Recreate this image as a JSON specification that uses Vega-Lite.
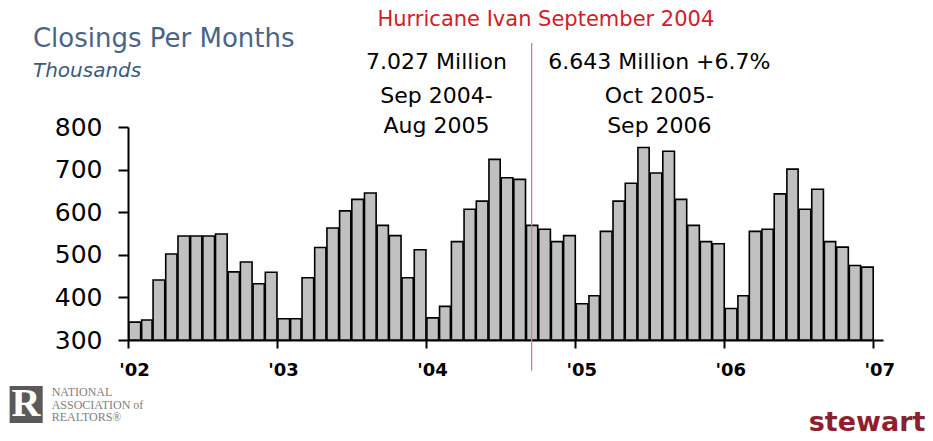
{
  "$schema": "https://vega.github.io/schema/vega-lite/v6.json",
  "autosize": "none",
  "width": 755,
  "height": 213,
  "padding": {"left": 128, "top": 127, "right": 50, "bottom": 101},
  "background": "white",
  "config": {"view": {"stroke": null}},
  "datasets": {
    "closings": [
      {"date": "2002-01-01", "closings": 342}, {"date": "2002-02-01", "closings": 347},
      {"date": "2002-03-01", "closings": 441}, {"date": "2002-04-01", "closings": 502},
      {"date": "2002-05-01", "closings": 544}, {"date": "2002-06-01", "closings": 544},
      {"date": "2002-07-01", "closings": 544}, {"date": "2002-08-01", "closings": 549},
      {"date": "2002-09-01", "closings": 460}, {"date": "2002-10-01", "closings": 483},
      {"date": "2002-11-01", "closings": 432}, {"date": "2002-12-01", "closings": 459},
      {"date": "2003-01-01", "closings": 350}, {"date": "2003-02-01", "closings": 350},
      {"date": "2003-03-01", "closings": 446}, {"date": "2003-04-01", "closings": 517},
      {"date": "2003-05-01", "closings": 563}, {"date": "2003-06-01", "closings": 603},
      {"date": "2003-07-01", "closings": 630}, {"date": "2003-08-01", "closings": 645},
      {"date": "2003-09-01", "closings": 569}, {"date": "2003-10-01", "closings": 545},
      {"date": "2003-11-01", "closings": 446}, {"date": "2003-12-01", "closings": 512},
      {"date": "2004-01-01", "closings": 352}, {"date": "2004-02-01", "closings": 379},
      {"date": "2004-03-01", "closings": 531}, {"date": "2004-04-01", "closings": 607},
      {"date": "2004-05-01", "closings": 626}, {"date": "2004-06-01", "closings": 724},
      {"date": "2004-07-01", "closings": 681}, {"date": "2004-08-01", "closings": 677},
      {"date": "2004-09-01", "closings": 569}, {"date": "2004-10-01", "closings": 560},
      {"date": "2004-11-01", "closings": 531}, {"date": "2004-12-01", "closings": 545},
      {"date": "2005-01-01", "closings": 385}, {"date": "2005-02-01", "closings": 404},
      {"date": "2005-03-01", "closings": 555}, {"date": "2005-04-01", "closings": 626},
      {"date": "2005-05-01", "closings": 668}, {"date": "2005-06-01", "closings": 752},
      {"date": "2005-07-01", "closings": 692}, {"date": "2005-08-01", "closings": 743},
      {"date": "2005-09-01", "closings": 630}, {"date": "2005-10-01", "closings": 569},
      {"date": "2005-11-01", "closings": 531}, {"date": "2005-12-01", "closings": 526},
      {"date": "2006-01-01", "closings": 374}, {"date": "2006-02-01", "closings": 404},
      {"date": "2006-03-01", "closings": 555}, {"date": "2006-04-01", "closings": 560},
      {"date": "2006-05-01", "closings": 643}, {"date": "2006-06-01", "closings": 701},
      {"date": "2006-07-01", "closings": 607}, {"date": "2006-08-01", "closings": 654},
      {"date": "2006-09-01", "closings": 531}, {"date": "2006-10-01", "closings": 518},
      {"date": "2006-11-01", "closings": 475}, {"date": "2006-12-01", "closings": 471}
    ],
    "event": [{"date": "2004-09-16", "top": 997, "bottom": 228}],
    "heading": [{"date": "2001-05-13", "value": 988, "text": "Closings Per Months"}],
    "unit": [{"date": "2001-05-13", "value": 918, "text": "Thousands"}],
    "headline": [{"date": "2004-10-21", "value": 1037, "text": "Hurricane Ivan September  2004"}],
    "notes": [
      {"date": "2004-01-27", "value": 935, "text": "7.027 Million"},
      {"date": "2004-01-27", "value": 857, "text": "Sep 2004-"},
      {"date": "2004-01-27", "value": 786, "text": "Aug 2005"},
      {"date": "2005-07-26", "value": 935, "text": "6.643  Million +6.7%"},
      {"date": "2005-07-26", "value": 857, "text": "Oct 2005-"},
      {"date": "2005-07-26", "value": 786, "text": "Sep 2006"}
    ],
    "narBox": [{"start": "2001-03-17", "end": "2001-06-06", "low": 105, "high": 192}],
    "narLetter": [{"date": "2001-04-26", "value": 122, "text": "R"}],
    "narText": [
      {"date": "2001-06-28", "value": 169, "text": "NATIONAL"},
      {"date": "2001-06-28", "value": 139, "text": "ASSOCIATION of"},
      {"date": "2001-06-28", "value": 109, "text": "REALTORS®"}
    ],
    "brand": [{"date": "2006-12-17", "value": 87, "text": "stewart"}]
  },
  "layer": [
    {
      "data": {"name": "closings"},
      "mark": {"type": "bar", "fill": "#c0c0c0", "stroke": "#000000", "strokeWidth": 1.6, "timeUnitBandSize": 0.88},
      "encoding": {
        "x": {
          "field": "date", "type": "temporal", "timeUnit": "utcyearmonth",
          "scale": {"type": "utc", "domain": [{"year": 2002, "month": 1, "date": 1, "utc": true}, {"year": 2007, "month": 1, "date": 25, "utc": true}]},
          "axis": {
            "title": null, "grid": false,
            "values": [
              {"year": 2002, "month": 1, "date": 1, "utc": true},
              {"year": 2003, "month": 1, "date": 1, "utc": true},
              {"year": 2004, "month": 1, "date": 1, "utc": true},
              {"year": 2005, "month": 1, "date": 1, "utc": true},
              {"year": 2006, "month": 1, "date": 1, "utc": true},
              {"year": 2007, "month": 1, "date": 1, "utc": true}
            ],
            "format": "'%y",
            "labelFont": "DejaVu Sans", "labelFontSize": 18, "labelFontWeight": "bold", "labelColor": "#000000",
            "labelPadding": 13, "labelOffset": 6, "labelFlush": false, "labelOverlap": false,
            "domainColor": "#000000", "domainWidth": 2, "tickColor": "#000000", "tickWidth": 2, "tickSize": 8
          }
        },
        "y": {
          "field": "closings", "type": "quantitative",
          "scale": {"domain": [300, 800], "nice": false, "zero": false},
          "axis": {
            "title": null, "grid": false, "values": [300, 400, 500, 600, 700, 800],
            "labelFont": "DejaVu Sans", "labelFontSize": 25, "labelColor": "#000000",
            "labelPadding": 16, "labelFlush": false,
            "domainColor": "#000000", "domainWidth": 2, "tickColor": "#000000", "tickWidth": 2, "tickSize": 10
          }
        },
        "y2": {"datum": 300}
      }
    },
    {
      "data": {"name": "event"},
      "mark": {"type": "rule", "color": "#e07a7a", "strokeWidth": 1.3},
      "encoding": {
        "x": {"field": "date", "type": "temporal"},
        "y": {"field": "top", "type": "quantitative"},
        "y2": {"field": "bottom"}
      }
    },
    {
      "data": {"name": "heading"},
      "mark": {"type": "text", "font": "DejaVu Sans", "fontSize": 26, "color": "#4a6584", "align": "left", "baseline": "alphabetic"},
      "encoding": {
        "x": {"field": "date", "type": "temporal"},
        "y": {"field": "value", "type": "quantitative"},
        "text": {"field": "text"}
      }
    },
    {
      "data": {"name": "unit"},
      "mark": {"type": "text", "font": "DejaVu Sans", "fontSize": 20, "fontStyle": "italic", "color": "#3d5a80", "align": "left", "baseline": "alphabetic"},
      "encoding": {
        "x": {"field": "date", "type": "temporal"},
        "y": {"field": "value", "type": "quantitative"},
        "text": {"field": "text"}
      }
    },
    {
      "data": {"name": "headline"},
      "mark": {"type": "text", "font": "DejaVu Sans", "fontSize": 21, "color": "#d0202a", "align": "center", "baseline": "alphabetic"},
      "encoding": {
        "x": {"field": "date", "type": "temporal"},
        "y": {"field": "value", "type": "quantitative"},
        "text": {"field": "text"}
      }
    },
    {
      "data": {"name": "notes"},
      "mark": {"type": "text", "font": "DejaVu Sans", "fontSize": 22, "color": "#000000", "align": "center", "baseline": "alphabetic"},
      "encoding": {
        "x": {"field": "date", "type": "temporal"},
        "y": {"field": "value", "type": "quantitative"},
        "text": {"field": "text"}
      }
    },
    {
      "data": {"name": "narBox"},
      "mark": {"type": "rect", "color": "#5a5a5a"},
      "encoding": {
        "x": {"field": "start", "type": "temporal"},
        "x2": {"field": "end"},
        "y": {"field": "low", "type": "quantitative"},
        "y2": {"field": "high"}
      }
    },
    {
      "data": {"name": "narLetter"},
      "mark": {"type": "text", "font": "Liberation Serif", "fontSize": 40, "fontWeight": "bold", "color": "#ffffff", "align": "center", "baseline": "alphabetic"},
      "encoding": {
        "x": {"field": "date", "type": "temporal"},
        "y": {"field": "value", "type": "quantitative"},
        "text": {"field": "text"}
      }
    },
    {
      "data": {"name": "narText"},
      "mark": {"type": "text", "font": "Liberation Serif", "fontSize": 12, "color": "#808080", "align": "left", "baseline": "alphabetic"},
      "encoding": {
        "x": {"field": "date", "type": "temporal"},
        "y": {"field": "value", "type": "quantitative"},
        "text": {"field": "text"}
      }
    },
    {
      "data": {"name": "brand"},
      "mark": {"type": "text", "font": "DejaVu Sans", "fontSize": 27, "fontWeight": "bold", "color": "#8e1f2f", "align": "center", "baseline": "alphabetic"},
      "encoding": {
        "x": {"field": "date", "type": "temporal"},
        "y": {"field": "value", "type": "quantitative"},
        "text": {"field": "text"}
      }
    }
  ]
}
